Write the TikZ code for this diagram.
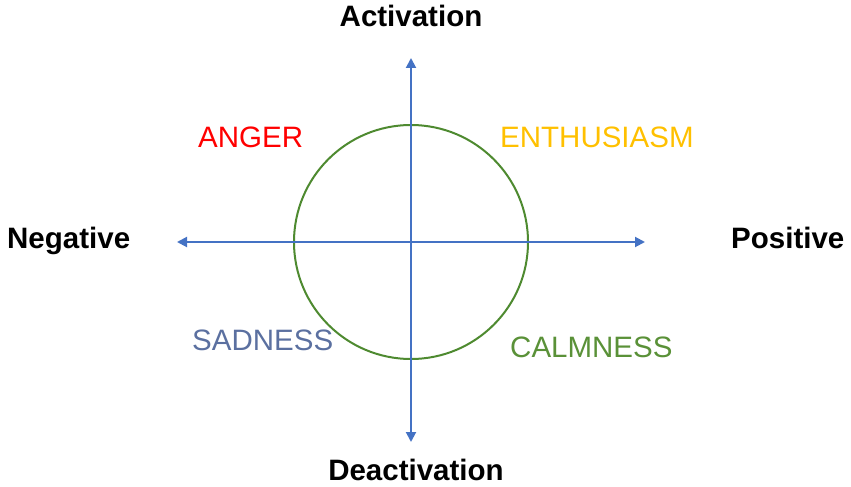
\documentclass[tikz,border=0pt]{standalone}
\usepackage{fontspec}
\setmainfont{Liberation Sans}
\usetikzlibrary{arrows.meta}
\definecolor{axisblue}{HTML}{4472C4}
\definecolor{circgreen}{HTML}{4E8A30}
\definecolor{angerred}{HTML}{FF0000}
\definecolor{enthgold}{HTML}{FFC000}
\definecolor{sadblue}{HTML}{5B70A0}
\definecolor{calmgreen}{HTML}{5A9138}
\begin{document}
\begin{tikzpicture}[x=1pt,y=-1pt,
  axis/.style={draw=axisblue,line width=2pt,{Triangle[length=10pt,width=10pt]}-{Triangle[length=10pt,width=10pt]}},
  pole/.style={font=\fontsize{29.5}{32}\selectfont\bfseries,inner sep=0pt,text=black},
  emo/.style={font=\fontsize{29.5}{32}\selectfont,inner sep=0pt,anchor=base west}]
\useasboundingbox (0,0) rectangle (851,487);
\coordinate (c) at (411,242);
\coordinate (top) at (411,58);
\coordinate (bot) at (411,442);
\coordinate (left) at (177,242);
\coordinate (right) at (645,242);
\draw[circgreen,line width=2pt] (c) circle[radius=117];
\draw[axis] (left) -- (right);
\draw[axis] (bot) -- (top);
\node[pole,anchor=base] (act) at (411,27) {Activation};
\node[pole,anchor=base] (deact) at (416,480) {Deactivation};
\node[pole,anchor=base west] (neg) at (7,248) {Negative};
\node[pole,anchor=base west] (pos) at (731,248) {Positive};
\node[emo,text=angerred] (anger) at (198,147) {ANGER};
\node[emo,text=enthgold] (enth) at (500,147) {ENTHUSIASM};
\node[emo,text=sadblue] (sad) at (192,350) {SADNESS};
\node[emo,text=calmgreen] (calm) at (510,357) {CALMNESS};
\end{tikzpicture}
\end{document}
